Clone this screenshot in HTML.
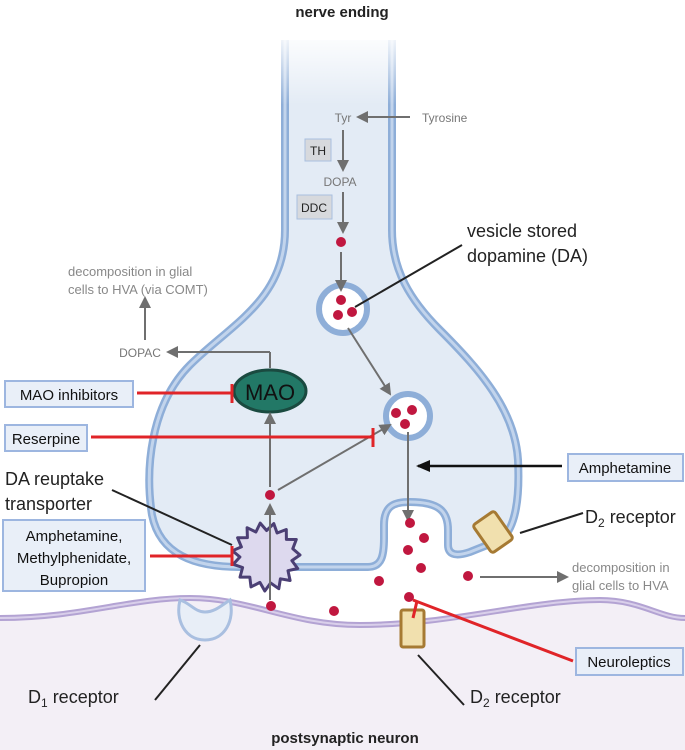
<!DOCTYPE html>
<html><head><meta charset="utf-8"><style>
body{margin:0;background:#fff}
svg{display:block}
text{font-family:"Liberation Sans",sans-serif}
</style></head><body>
<svg width="685" height="750" viewBox="0 0 685 750" xmlns="http://www.w3.org/2000/svg">
<defs>
<marker id="ag" markerWidth="12" markerHeight="12" refX="10" refY="6" orient="auto" markerUnits="userSpaceOnUse"><path d="M0,0 L12,6 L0,12 z" fill="#6f6f6f"/></marker>
<marker id="ak" markerWidth="14" markerHeight="12" refX="12" refY="6" orient="auto" markerUnits="userSpaceOnUse"><path d="M0,0 L14,6 L0,12 z" fill="#111"/></marker>
<marker id="ag2" markerWidth="12" markerHeight="12" refX="10" refY="6" orient="auto" markerUnits="userSpaceOnUse"><path d="M0,0 L12,6 L0,12 z" fill="#6f6f6f"/></marker>
<linearGradient id="fade" x1="0" y1="0" x2="0" y2="1"><stop offset="0" stop-color="#fff" stop-opacity="1"/><stop offset="1" stop-color="#fff" stop-opacity="0"/></linearGradient>
</defs>
<path d="M0,618 C80,618 130,598 190,598 C250,598 290,625 360,625 C450,625 530,600 600,600 C640,600 660,618 685,618 L685,750 L0,750 z" fill="#f3eff6"/>
<path d="M0,618 C80,618 130,598 190,598 C250,598 290,625 360,625 C450,625 530,600 600,600 C640,600 660,618 685,618" fill="none" stroke="#b3a3d3" stroke-width="6"/>
<path d="M0,618 C80,618 130,598 190,598 C250,598 290,625 360,625 C450,625 530,600 600,600 C640,600 660,618 685,618" fill="none" stroke="#d9cfea" stroke-width="2"/>
<path d="M285,40 L285,230 C285,300 230,325 190,365 C150,405 145,470 152,515 C160,555 195,567 240,567 L368,567 C382,567 384,555 384,538 L384,525 C384,505 395,502 410,502 C440,502 448,512 448,530 L448,545 C448,556 458,556 470,552 L500,540 C515,530 520,500 518,460 C515,410 480,370 440,330 C410,300 392,270 392,230 L392,40" fill="#e3ebf5" stroke="#8eaed8" stroke-width="8"/>
<path d="M285,40 L285,230 C285,300 230,325 190,365 C150,405 145,470 152,515 C160,555 195,567 240,567 L368,567 C382,567 384,555 384,538 L384,525 C384,505 395,502 410,502 C440,502 448,512 448,530 L448,545 C448,556 458,556 470,552 L500,540 C515,530 520,500 518,460 C515,410 480,370 440,330 C410,300 392,270 392,230 L392,40" fill="none" stroke="#c2d4ec" stroke-width="3"/>
<rect x="275" y="30" width="130" height="75" fill="url(#fade)"/>
<text x="342" y="17" font-size="15" font-weight="bold" text-anchor="middle" fill="#222">nerve ending</text>
<text x="343" y="122" font-size="12" text-anchor="middle" fill="#777">Tyr</text>
<text x="422" y="122" font-size="12" fill="#777">Tyrosine</text>
<line x1="410" y1="117" x2="358" y2="117" stroke="#6f6f6f" stroke-width="2" marker-end="url(#ag)"/>
<rect x="305" y="139" width="26" height="22" fill="#d7d9dd" stroke="#a9bfe0"/>
<text x="318" y="155" font-size="12" text-anchor="middle" fill="#222">TH</text>
<line x1="343" y1="130" x2="343" y2="170" stroke="#6f6f6f" stroke-width="2" marker-end="url(#ag)"/>
<text x="340" y="186" font-size="12" text-anchor="middle" fill="#777">DOPA</text>
<rect x="297" y="195" width="35" height="24" fill="#d7d9dd" stroke="#a9bfe0"/>
<text x="314" y="212" font-size="12" text-anchor="middle" fill="#222">DDC</text>
<line x1="343" y1="192" x2="343" y2="232" stroke="#6f6f6f" stroke-width="2" marker-end="url(#ag)"/>
<circle cx="341" cy="242" r="5" fill="#c0173f"/>
<circle cx="343" cy="309" r="24" fill="#fff" stroke="#8eaed8" stroke-width="6"/>
<line x1="341" y1="252" x2="341" y2="290" stroke="#6f6f6f" stroke-width="2" marker-end="url(#ag)"/>
<g fill="#c0173f"><circle cx="341" cy="300" r="5"/><circle cx="338" cy="315" r="5"/><circle cx="352" cy="312" r="5"/></g>
<line x1="355" y1="307" x2="462" y2="245" stroke="#222" stroke-width="2"/>
<text x="467" y="237" font-size="18" fill="#222">vesicle stored</text>
<text x="467" y="262" font-size="18" fill="#222">dopamine (DA)</text>
<circle cx="408" cy="416" r="22" fill="#fff" stroke="#8eaed8" stroke-width="6"/>
<line x1="348" y1="328" x2="390" y2="394" stroke="#6f6f6f" stroke-width="2" marker-end="url(#ag)"/>
<g fill="#c0173f"><circle cx="396" cy="413" r="5"/><circle cx="412" cy="410" r="5"/><circle cx="405" cy="424" r="5"/></g>
<line x1="408" y1="432" x2="408" y2="520" stroke="#6f6f6f" stroke-width="2" marker-end="url(#ag)"/>
<line x1="270" y1="368" x2="270" y2="352" stroke="#6f6f6f" stroke-width="2"/>
<line x1="270" y1="352" x2="168" y2="352" stroke="#6f6f6f" stroke-width="2" marker-end="url(#ag2)"/>
<text x="140" y="357" font-size="12" text-anchor="middle" fill="#777">DOPAC</text>
<line x1="145" y1="340" x2="145" y2="298" stroke="#6f6f6f" stroke-width="2" marker-end="url(#ag2)"/>
<text x="68" y="276" font-size="13" fill="#888">decomposition in glial</text>
<text x="68" y="294" font-size="13" fill="#888">cells to HVA (via COMT)</text>
<ellipse cx="270" cy="391" rx="36" ry="21" fill="#227866" stroke="#1a4a40" stroke-width="3"/>
<text x="270" y="400" font-size="22" text-anchor="middle" fill="#111">MAO</text>
<line x1="270" y1="487" x2="270" y2="414" stroke="#6f6f6f" stroke-width="2" marker-end="url(#ag2)"/>
<circle cx="270" cy="495" r="5" fill="#c0173f"/>
<line x1="278" y1="490" x2="390" y2="425" stroke="#6f6f6f" stroke-width="2" marker-end="url(#ag2)"/>
<polygon points="300.0,555.0 291.9,560.6 297.7,568.5 288.0,570.7 290.1,580.5 280.4,578.8 278.8,588.7 270.6,583.0 264.8,591.0 259.9,582.4 251.0,586.9 249.8,577.1 240.0,577.1 242.6,567.5 233.2,564.3 239.9,557.0 232.4,550.7 241.4,546.9 237.6,537.8 247.4,537.6 247.1,527.7 255.9,532.0 260.2,523.1 266.6,530.5 273.8,523.6 277.1,533.0 286.3,529.5 286.4,539.4 296.3,539.5 292.8,548.7" fill="#ddd9ee" stroke="#4b3f74" stroke-width="3" stroke-linejoin="round"/>
<line x1="270" y1="600" x2="270" y2="505" stroke="#6f6f6f" stroke-width="2" marker-end="url(#ag2)"/>
<g fill="#c0173f">
<circle cx="410" cy="523" r="5"/><circle cx="424" cy="538" r="5"/><circle cx="408" cy="550" r="5"/><circle cx="421" cy="568" r="5"/><circle cx="379" cy="581" r="5"/><circle cx="468" cy="576" r="5"/><circle cx="409" cy="597" r="5"/><circle cx="334" cy="611" r="5"/><circle cx="271" cy="606" r="5"/>
</g>
<line x1="480" y1="577" x2="567" y2="577" stroke="#6f6f6f" stroke-width="2" marker-end="url(#ag2)"/>
<text x="572" y="572" font-size="13" fill="#888">decomposition in</text>
<text x="572" y="590" font-size="13" fill="#888">glial cells to HVA</text>
<rect x="480" y="515" width="26" height="34" rx="3" fill="#f1e0ae" stroke="#a67a33" stroke-width="3" transform="rotate(-35 493 532)"/>
<line x1="520" y1="533" x2="583" y2="513" stroke="#222" stroke-width="2"/>
<text x="585" y="523" font-size="18" fill="#222">D<tspan font-size="12" dy="4">2</tspan><tspan dy="-4"> receptor</tspan></text>
<path d="M180,600 C175,620 185,640 205,640 C225,640 235,620 230,600 C222,605 215,612 205,612 C195,612 190,603 180,600 z" fill="#e8eef7" stroke="#a9bfe0" stroke-width="3"/>
<line x1="200" y1="645" x2="155" y2="700" stroke="#222" stroke-width="2"/>
<text x="28" y="703" font-size="18" fill="#222">D<tspan font-size="12" dy="4">1</tspan><tspan dy="-4"> receptor</tspan></text>
<rect x="401" y="610" width="23" height="37" rx="2" fill="#f1e0ae" stroke="#a67a33" stroke-width="3"/>
<line x1="418" y1="655" x2="464" y2="705" stroke="#222" stroke-width="2"/>
<text x="470" y="703" font-size="18" fill="#222">D<tspan font-size="12" dy="4">2</tspan><tspan dy="-4"> receptor</tspan></text>
<line x1="413" y1="600" x2="573" y2="661" stroke="#e02428" stroke-width="3"/>
<line x1="417" y1="601" x2="413" y2="618" stroke="#e02428" stroke-width="3"/>
<g fill="#e9eff8" stroke="#9db6e0" stroke-width="2">
<rect x="5" y="381" width="128" height="26"/>
<rect x="5" y="425" width="82" height="26"/>
<rect x="568" y="454" width="115" height="27"/>
<rect x="3" y="520" width="142" height="71"/>
<rect x="576" y="648" width="107" height="27"/>
</g>
<text x="69" y="400" font-size="15" text-anchor="middle" fill="#111">MAO inhibitors</text>
<text x="46" y="444" font-size="15" text-anchor="middle" fill="#111">Reserpine</text>
<text x="625" y="473" font-size="15" text-anchor="middle" fill="#111">Amphetamine</text>
<text x="74" y="541" font-size="15" text-anchor="middle" fill="#111">Amphetamine,</text>
<text x="74" y="563" font-size="15" text-anchor="middle" fill="#111">Methylphenidate,</text>
<text x="74" y="585" font-size="15" text-anchor="middle" fill="#111">Bupropion</text>
<text x="629" y="667" font-size="15" text-anchor="middle" fill="#111">Neuroleptics</text>
<g stroke="#e02428" stroke-width="3">
<line x1="137" y1="393" x2="232" y2="393"/><line x1="232" y1="384" x2="232" y2="403"/>
<line x1="91" y1="437" x2="373" y2="437"/><line x1="373" y1="428" x2="373" y2="447"/>
<line x1="150" y1="556" x2="232" y2="556"/><line x1="232" y1="546" x2="232" y2="566"/>
</g>
<line x1="562" y1="466" x2="418" y2="466" stroke="#111" stroke-width="2.5" marker-end="url(#ak)"/>
<text x="5" y="485" font-size="18" fill="#222">DA reuptake</text>
<text x="5" y="510" font-size="18" fill="#222">transporter</text>
<line x1="112" y1="490" x2="232" y2="545" stroke="#222" stroke-width="2"/>
<text x="345" y="743" font-size="15" font-weight="bold" text-anchor="middle" fill="#222">postsynaptic neuron</text>
</svg>
</body></html>
